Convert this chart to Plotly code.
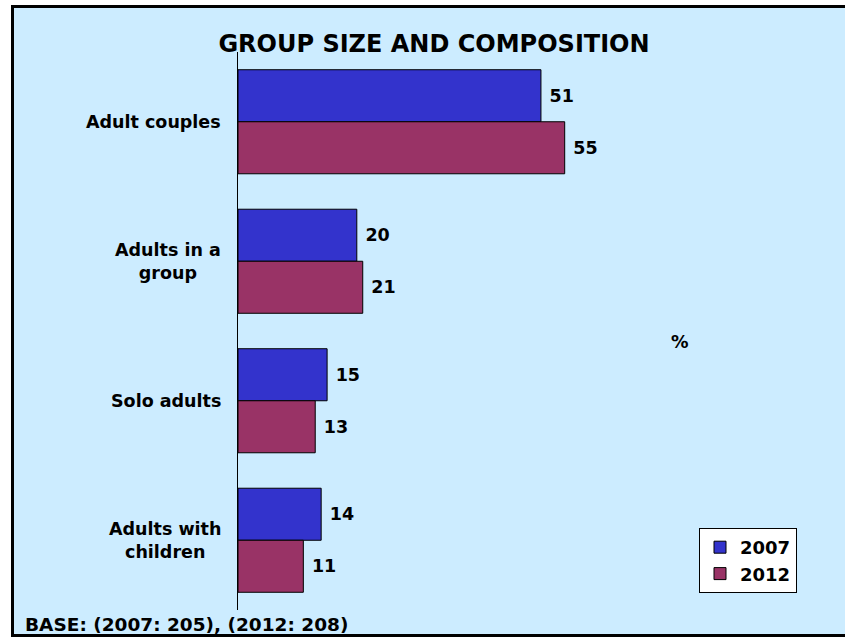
import plotly.graph_objects as go

categories = ["Adult couples", "Adults in a group", "Solo adults", "Adults with children"]
category_labels = ["Adult couples", "Adults in a<br>group", "Solo adults", "Adults with<br>children"]
values_2007 = [51, 20, 15, 14]
values_2012 = [55, 21, 13, 11]
series_names = ["2007", "2012"]
series_colors = ["#3333CC", "#993366"]

W, H = 845, 637
ML, MR, MT, MB = 238, 13, 52, 27
PW, PH = W - ML - MR, H - MT - MB


def px_x(px):
    return (px - ML) / PW


def px_y(py):
    return (H - MB - py) / PH


font_family = "DejaVu Sans, Verdana, sans-serif"
label_size = 17.5

fig = go.Figure()
for name, vals, color in zip(series_names, [values_2007, values_2012], series_colors):
    fig.add_trace(go.Bar(
        name=f"<b>{name}</b>",
        y=categories,
        x=vals,
        orientation="h",
        marker=dict(color=color, line=dict(color="black", width=1)),
        text=[f" <b>{v}</b>" for v in vals],
        textposition="outside",
        textfont=dict(family=font_family, size=label_size, color="black"),
        cliponaxis=False,
    ))

annotations = []
for cat, lab in zip(categories, category_labels):
    annotations.append(dict(
        x=px_x(223), xref="paper", y=cat, yref="y",
        text=f"<b>{lab}</b>", showarrow=False,
        xanchor="right", yanchor="middle", align="center",
        font=dict(family=font_family, size=label_size, color="black"),
    ))

annotations.append(dict(
    x=px_x(680), xref="paper", y=px_y(342), yref="paper",
    text="<b>%</b>", showarrow=False, xanchor="center", yanchor="middle",
    font=dict(family=font_family, size=label_size, color="black"),
))
annotations.append(dict(
    x=px_x(23), xref="paper", y=px_y(624), yref="paper",
    text="<b>BASE: (2007: 205), (2012: 208)</b>", showarrow=False,
    xanchor="left", yanchor="middle",
    font=dict(family=font_family, size=18.5, color="black"),
))

fig.update_layout(
    width=W, height=H,
    margin=dict(l=ML, r=MR, t=MT, b=MB),
    paper_bgcolor="white",
    plot_bgcolor="rgba(0,0,0,0)",
    barmode="group",
    bargap=0.254,
    bargroupgap=0,
    title=dict(
        text="<b>GROUP SIZE AND COMPOSITION</b>",
        x=434 / W, xanchor="center", y=1 - 44 / H, yanchor="middle",
        font=dict(family=font_family, size=24, color="black"),
    ),
    xaxis=dict(range=[0, 100], showticklabels=False, showgrid=False,
               zeroline=False, showline=False),
    yaxis=dict(autorange="reversed", showticklabels=False, showgrid=False,
               zeroline=False, showline=True, linecolor="black", linewidth=1,
               ticks=""),
    legend=dict(
        x=px_x(797), y=px_y(528), xanchor="right", yanchor="top",
        bgcolor="white", bordercolor="black", borderwidth=1,
        font=dict(family=font_family, size=18, color="black"),
        traceorder="normal", itemwidth=30,
    ),
    showlegend=True,
    annotations=annotations,
    shapes=[dict(
        type="rect", xref="paper", yref="paper", layer="below",
        x0=px_x(12.5), x1=px_x(860), y0=px_y(635.5), y1=px_y(6.5),
        line=dict(color="black", width=3), fillcolor="#CCECFF",
    )],
)

fig.write_html("out.html")
